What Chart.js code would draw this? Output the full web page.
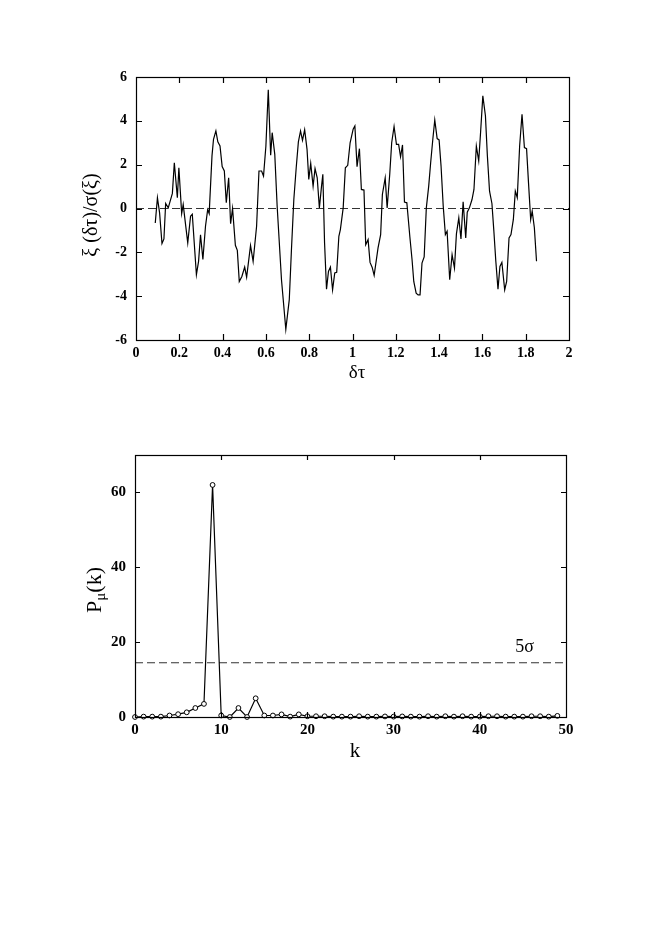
<!DOCTYPE html>
<html>
<head>
<meta charset="utf-8">
<script src="https://cdn.jsdelivr.net/npm/chart.js@4.4.1/dist/chart.umd.min.js"></script>
<style>
  html, body { margin:0; padding:0; background:#fff; width:654px; height:941px; overflow:hidden; }
  canvas { position:absolute; left:0; }
  #c1 { top:0; }
  #c2 { top:420px; }
</style>
</head>
<body>
<canvas id="c1" width="654" height="420"></canvas>
<canvas id="c2" width="654" height="521"></canvas>
<script>
// ---------- Top panel data: xi(dtau)/sigma(xi) vs dtau ----------
const tauValues = [
  0.089,0.099,0.109,0.12,0.129,0.137,0.149,0.168,0.177,0.191,0.198,0.211,0.218,0.239,0.252,0.26,
  0.279,0.289,0.298,0.309,0.321,0.331,0.338,0.351,0.358,0.369,0.378,0.388,0.398,0.408,0.417,0.428,
  0.437,0.446,0.459,0.468,0.477,0.489,0.502,0.511,0.529,0.541,0.557,
  0.568,0.58,0.589,0.6,0.611,0.622,0.629,0.641,0.652,0.672,0.692,0.708,0.718,0.729,0.74,0.75,
  0.76,0.769,0.779,0.79,0.798,0.807,0.818,0.827,0.837,0.847,0.857,0.863,0.871,0.88,0.889,0.898,
  0.908,0.918,0.927,0.937,0.944,0.957,0.967,0.978,0.989,1.003,1.011,1.021,1.032,1.041,1.053,
  1.061,1.072,1.081,1.091,1.1,1.118,1.13,1.138,1.151,1.16,1.172,1.181,1.192,1.203,1.213,1.222,
  1.231,1.24,1.251,1.265,1.275,1.283,1.294,1.303,1.312,1.321,1.331,1.341,1.352,1.361,1.371,1.38,
  1.391,1.4,1.409,1.419,1.429,1.437,1.449,1.46,1.471,1.48,1.491,1.501,1.511,1.523,1.53,
  1.54,1.552,1.561,1.572,1.583,1.592,1.602,1.614,1.623,1.633,1.644,1.653,1.662,1.672,1.681,1.69,
  1.703,1.712,1.723,1.732,1.743,1.752,1.761,1.772,1.783,1.794,1.804,1.813,1.823,1.83,1.84,1.85
];
const xiValues = [
  -0.66,0.49,-0.2,-1.6,-1.39,0.23,0.03,0.69,2.09,0.49,1.86,-0.23,0.18,-1.57,-0.35,-0.26,
  -3.02,-2.41,-1.2,-2.33,-0.81,-0.05,-0.23,2.4,3.16,3.54,3.04,2.85,1.91,1.71,0.26,1.4,
  -0.69,0,-1.68,-1.91,-3.33,-3.1,-2.67,-3.13,-1.69,-2.41,-0.81,
  1.71,1.71,1.48,2.85,5.42,2.43,3.46,2.47,0.1,-3.25,-5.51,-4.16,-1.88,0.41,1.86,3.04,
  3.54,3.11,3.59,2.7,1.33,2.06,1.02,1.82,1.4,0.03,1.02,1.56,-1.57,-3.68,-2.87,-2.67,
  -3.71,-2.94,-2.91,-1.27,-0.96,0.03,1.86,1.97,3.0,3.62,3.77,1.91,2.73,0.87,0.84,
  -1.65,-1.42,-2.46,-2.69,-3.05,-1.8,-1.19,0.64,1.4,0.03,1.56,3.0,3.74,2.93,2.93,2.36,
  2.9,0.29,0.26,-1.3,-2.33,-3.33,-3.86,-3.94,-3.94,-2.49,-2.21,0.03,1.02,2.09,3.16,4.04,
  3.19,3.13,1.94,0.11,-1.19,-1.04,-3.25,-2.11,-2.72,-1.16,-0.43,-1.39,0.31,-1.34,-0.17,
  0.03,0.41,0.87,2.85,2.17,3.54,5.14,4.23,2.4,0.79,0.23,-1.04,-2.41,-3.68,-2.64,-2.46,
  -3.71,-3.33,-1.34,-1.19,-0.5,0.79,0.49,2.85,4.3,2.78,2.73,1.17,-0.5,-0.12,-0.88,-2.41
];
const topXTicks = [0,0.2,0.4,0.6,0.8,1,1.2,1.4,1.6,1.8,2];
const topYTicks = [-6,-4,-2,0,2,4,6];
const topZeroLevel = 0;

// ---------- Bottom panel data: power spectrum P_mu(k) ----------
const kValues = [
  0,1,2,3,4,5,6,7,8,9,10,11,12,13,14,15,16,17,18,19,20,21,22,23,24,
  25,26,27,28,29,30,31,32,33,34,35,36,37,38,39,40,41,42,43,44,45,46,47,48,49
];
const powerValues = [
  0,0.1,0.1,0.1,0.4,0.75,1.25,2.4,3.5,62,
  0.4,0,2.4,0,5,0.4,0.4,0.7,0.1,0.7,
  0.2,0.2,0.2,0.1,0.1,0.1,0.2,0.1,0.1,0.15,
  0.1,0.15,0.1,0.1,0.2,0.1,0.2,0.1,0.2,0.1,
  0.1,0.2,0.2,0.1,0.1,0.1,0.2,0.2,0.1,0.3
];
const botXTicks = [0,10,20,30,40,50];
const botYTicks = [0,20,40,60];
const sigmaLevel = 14.5;
const sigmaLabel = '5σ';

const SERIF = '"Liberation Serif", "Times New Roman", serif';

function frameTicksPlugin(xTicks, yTicks, len) {
  return {
    id: 'frameTicks',
    afterDatasetsDraw(chart) {
      const {ctx, chartArea: a, scales} = chart;
      ctx.save();
      ctx.strokeStyle = '#000';
      ctx.lineWidth = 1.2;
      ctx.strokeRect(Math.round(a.left) + 0.5, Math.round(a.top) + 0.5,
                     Math.round(a.right - a.left), Math.round(a.bottom - a.top));
      ctx.beginPath();
      xTicks.forEach(v => {
        const px = Math.round(scales.x.getPixelForValue(v)) + 0.5;
        if (px <= a.left + 1 || px >= a.right - 1) return;
        ctx.moveTo(px, a.bottom); ctx.lineTo(px, a.bottom - len);
        ctx.moveTo(px, a.top); ctx.lineTo(px, a.top + len);
      });
      yTicks.forEach(v => {
        const py = Math.round(scales.y.getPixelForValue(v)) + 0.5;
        if (py <= a.top + 1 || py >= a.bottom - 1) return;
        ctx.moveTo(a.left, py); ctx.lineTo(a.left + len, py);
        ctx.moveTo(a.right, py); ctx.lineTo(a.right - len, py);
      });
      ctx.stroke();
      ctx.restore();
    }
  };
}

function drawRuns(ctx, runs, cx, cy, rotate) {
  ctx.save();
  ctx.translate(cx, cy);
  if (rotate) ctx.rotate(-Math.PI / 2);
  ctx.fillStyle = '#000';
  ctx.textBaseline = 'middle';
  ctx.textAlign = 'left';
  let total = 0;
  runs.forEach(r => { ctx.font = r.font; total += ctx.measureText(r.t).width; });
  let x = -total / 2;
  runs.forEach(r => {
    ctx.font = r.font;
    ctx.fillText(r.t, x, r.dy || 0);
    x += ctx.measureText(r.t).width;
  });
  ctx.restore();
}

const tickFontTop = {family: SERIF, size: 14, weight: 'bold'};
const tickFontBot = {family: SERIF, size: 15, weight: 'bold'};

// ---------- Top chart ----------
new Chart(document.getElementById('c1'), {
  type: 'line',
  data: {
    datasets: [
      {
        data: tauValues.map((t, i) => ({x: t, y: xiValues[i]})),
        borderColor: '#000', borderWidth: 1.2, pointRadius: 0, tension: 0, fill: false
      },
      {
        data: [{x: topXTicks[0], y: topZeroLevel}, {x: topXTicks[topXTicks.length - 1], y: topZeroLevel}],
        borderColor: '#333', borderWidth: 1.2, borderDash: [8, 4], pointRadius: 0, fill: false
      }
    ]
  },
  options: {
    responsive: false, animation: false, devicePixelRatio: 1,
    layout: {padding: {left: 0, top: 77, right: 85, bottom: 0}},
    plugins: {legend: {display: false}, tooltip: {enabled: false}},
    scales: {
      x: {
        type: 'linear', min: 0, max: 2,
        afterBuildTicks: s => { s.ticks = topXTicks.map(v => ({value: v})); },
        afterFit: s => { s.height = 80; },
        grid: {display: false, drawTicks: false},
        border: {display: false},
        ticks: {font: tickFontTop, color: '#000', padding: 5, autoSkip: false, maxRotation: 0,
                callback: v => String(v)}
      },
      y: {
        type: 'linear', min: -6, max: 6,
        afterBuildTicks: s => { s.ticks = topYTicks.map(v => ({value: v})); },
        afterFit: s => { s.width = 136; },
        grid: {display: false, drawTicks: false},
        border: {display: false},
        ticks: {font: tickFontTop, color: '#000', padding: 9, autoSkip: false,
                callback: v => String(v)}
      }
    }
  },
  plugins: [
    frameTicksPlugin(topXTicks, topYTicks, 6),
    {
      id: 'titles1',
      afterDraw(chart) {
        const ctx = chart.ctx;
        drawRuns(ctx, [{t: 'ξ (δτ)/σ(ξ)', font: '20px ' + SERIF}], 92, 215, true);
        drawRuns(ctx, [{t: 'δτ', font: '19px ' + SERIF}], 357, 373, false);
      }
    }
  ]
});

// ---------- Bottom chart ----------
new Chart(document.getElementById('c2'), {
  type: 'line',
  data: {
    datasets: [
      {
        data: kValues.map((k, i) => ({x: k, y: powerValues[i]})),
        borderColor: '#000', borderWidth: 1.2, tension: 0, fill: false,
        pointRadius: 2.4, pointStyle: 'circle', pointBorderColor: '#000',
        pointBackgroundColor: '#fff', pointBorderWidth: 1, clip: false
      },
      {
        data: [{x: botXTicks[0], y: sigmaLevel}, {x: botXTicks[botXTicks.length - 1], y: sigmaLevel}],
        borderColor: '#333', borderWidth: 1.2, borderDash: [8, 4], pointRadius: 0, fill: false
      }
    ]
  },
  options: {
    responsive: false, animation: false, devicePixelRatio: 1,
    layout: {padding: {left: 0, top: 35, right: 88, bottom: 0}},
    plugins: {legend: {display: false}, tooltip: {enabled: false}},
    scales: {
      x: {
        type: 'linear', min: 0, max: 50,
        afterBuildTicks: s => { s.ticks = botXTicks.map(v => ({value: v})); },
        afterFit: s => { s.height = 224; },
        grid: {display: false, drawTicks: false},
        border: {display: false},
        ticks: {font: tickFontBot, color: '#000', padding: 4, autoSkip: false, maxRotation: 0,
                callback: v => String(v)}
      },
      y: {
        type: 'linear', min: 0, max: 70,
        afterBuildTicks: s => { s.ticks = botYTicks.map(v => ({value: v})); },
        afterFit: s => { s.width = 135; },
        grid: {display: false, drawTicks: false},
        border: {display: false},
        ticks: {font: tickFontBot, color: '#000', padding: 9, autoSkip: false,
                callback: v => String(v)}
      }
    }
  },
  plugins: [
    frameTicksPlugin(botXTicks, botYTicks, 5),
    {
      id: 'titles2',
      afterDraw(chart) {
        const ctx = chart.ctx;
        const {x, y} = chart.scales;
        drawRuns(ctx, [
          {t: 'P', font: '22px ' + SERIF},
          {t: 'μ', font: '15px ' + SERIF, dy: 6},
          {t: '(k)', font: '22px ' + SERIF}
        ], 95, 170, true);
        drawRuns(ctx, [{t: 'k', font: '21px ' + SERIF}], 355, 331, false);
        drawRuns(ctx, [{t: sigmaLabel, font: '18px ' + SERIF}],
                 x.getPixelForValue(45.2), y.getPixelForValue(sigmaLevel) - 15, false);
      }
    }
  ]
});
</script>
</body>
</html>
